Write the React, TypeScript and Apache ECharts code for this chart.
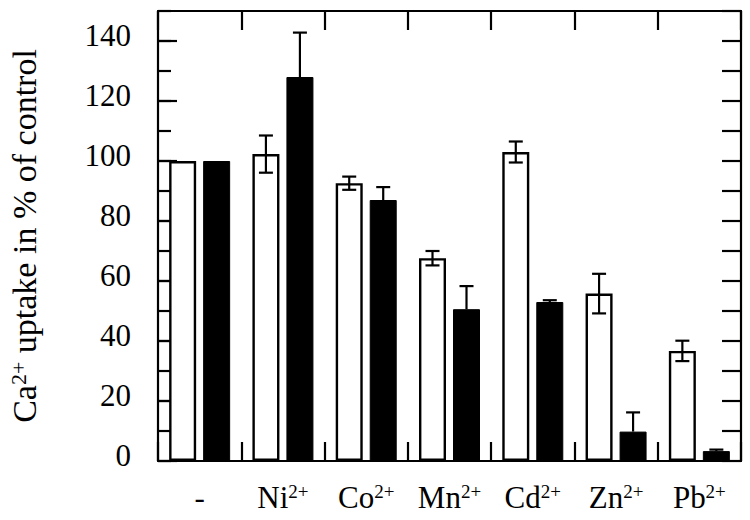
import React, { useEffect, useRef } from 'react';
import * as echarts from 'echarts';

const categories = ['-', 'Ni', 'Co', 'Mn', 'Cd', 'Zn', 'Pb'];
const categorySuperscripts = ['', '2+', '2+', '2+', '2+', '2+', '2+'];
const openValues = [100, 102.3, 92.6, 67.6, 103, 55.8, 36.7];
const openErrors = [0, 6.2, 2.2, 2.4, 3.5, 6.6, 3.4];
const filledValues = [100, 128, 87, 50.6, 53, 9.8, 3.3];
const filledErrors = [0, 14.8, 4.3, 7.7, 0.6, 6.4, 0.5];
const yMin = 0;
const yMax = 150;
const yLabelStep = 20;
const yMinorStep = 10;
const yTitleMain = 'Ca';
const yTitleSup = '2+';
const yTitleRest = ' uptake in % of control';

const FONT = "'Liberation Serif', 'Times New Roman', Times, serif";
const BAR_W = 27;
const BAR_GAP = 7;
const OFFSET = (BAR_W + BAR_GAP) / 2;
const CAP = 7;

function errorSeries(values: number[], errors: number[], side: number, lowerToo: boolean) {
  return {
    type: 'custom',
    xAxisIndex: 0,
    yAxisIndex: 0,
    z: 10,
    silent: true,
    encode: { x: 0, y: 1 },
    data: values.map((v, i) => [i, v, errors[i]]),
    renderItem: (params: any, api: any) => {
      const i = api.value(0);
      const v = api.value(1);
      const e = api.value(2);
      if (!e) return null;
      const c = api.coord([i, v]);
      const x = c[0] + side * OFFSET;
      const top = api.coord([i, v + e])[1];
      const bot = lowerToo ? api.coord([i, v - e])[1] : c[1];
      const st = { stroke: '#000', lineWidth: 2.2 };
      const children: any[] = [
        { type: 'line', shape: { x1: x, y1: top, x2: x, y2: bot }, style: st },
        { type: 'line', shape: { x1: x - CAP, y1: top, x2: x + CAP, y2: top }, style: st },
      ];
      if (lowerToo) {
        children.push({ type: 'line', shape: { x1: x - CAP, y1: bot, x2: x + CAP, y2: bot }, style: st });
      }
      return { type: 'group', children };
    },
  };
}

export default function App() {
  const ref = useRef<HTMLDivElement>(null);
  useEffect(() => {
    if (!ref.current) return;
    const chart = echarts.init(ref.current, undefined, { renderer: 'svg' });
    const axisLineStyle = { color: '#000', width: 2.2 };
    const option: any = {
      animation: false,
      backgroundColor: '#fff',
      textStyle: { fontFamily: FONT },
      grid: { left: 158, right: 9, top: 11, bottom: 59, containLabel: false },
      xAxis: [
        {
          type: 'category',
          data: categories,
          position: 'bottom',
          boundaryGap: true,
          axisLine: { show: true, onZero: false, lineStyle: axisLineStyle },
          axisTick: { show: true, inside: true, length: 19, alignWithLabel: false, lineStyle: axisLineStyle },
          axisLabel: {
            margin: 21,
            interval: 0,
            fontFamily: FONT,
            formatter: (value: string, idx: number) =>
              categorySuperscripts[idx] ? `{b|${value}}{s|${categorySuperscripts[idx]}}` : `{b|${value}}`,
            rich: {
              b: { fontFamily: FONT, fontSize: 31, color: '#000', lineHeight: 31 },
              s: { fontFamily: FONT, fontSize: 19, color: '#000', lineHeight: 21, verticalAlign: 'top' },
            },
          },
          splitLine: { show: false },
        },
        {
          type: 'category',
          data: categories,
          position: 'top',
          boundaryGap: true,
          axisLine: { show: true, onZero: false, lineStyle: axisLineStyle },
          axisTick: { show: true, inside: true, length: 19, alignWithLabel: false, lineStyle: axisLineStyle },
          axisLabel: { show: false },
          splitLine: { show: false },
        },
      ],
      yAxis: [
        {
          type: 'value',
          position: 'left',
          min: yMin,
          max: yMax,
          interval: yLabelStep,
          axisLine: { show: true, lineStyle: axisLineStyle },
          axisTick: { show: true, inside: true, length: 19, lineStyle: axisLineStyle },
          axisLabel: {
            showMaxLabel: false,
            margin: 27,
            fontFamily: FONT,
            fontSize: 31,
            color: '#000',
            verticalAlign: 'bottom',
            lineHeight: 12,
          },
          splitLine: { show: false },
        },
        {
          type: 'value',
          position: 'left',
          min: yMin,
          max: yMax,
          interval: yMinorStep,
          axisLine: { show: false },
          axisTick: { show: true, inside: true, length: 13, lineStyle: axisLineStyle },
          axisLabel: { show: false },
          splitLine: { show: false },
        },
        {
          type: 'value',
          position: 'right',
          min: yMin,
          max: yMax,
          interval: yMinorStep,
          axisLine: { show: true, lineStyle: axisLineStyle },
          axisTick: { show: true, inside: true, length: 19, lineStyle: axisLineStyle },
          axisLabel: { show: false },
          splitLine: { show: false },
        },
      ],
      graphic: [
        {
          type: 'text',
          x: 24,
          y: 236,
          rotation: Math.PI / 2,
          style: {
            text: `{b|${yTitleMain}}{s|${yTitleSup}}{b|${yTitleRest}}`,
            align: 'center',
            verticalAlign: 'middle',
            font: `34px ${FONT}`,
            fill: '#000',
            rich: {
              b: { font: `34px ${FONT}`, fontFamily: FONT, fontSize: 34, fill: '#000', lineHeight: 34 },
              s: { font: `22px ${FONT}`, fontFamily: FONT, fontSize: 22, fill: '#000', lineHeight: 22, verticalAlign: 'top' },
            },
          },
        },
      ],
      series: [
        {
          type: 'bar',
          name: 'open',
          xAxisIndex: 0,
          yAxisIndex: 0,
          data: openValues,
          barWidth: BAR_W,
          barGap: `${(BAR_GAP / BAR_W) * 100}%`,
          itemStyle: { color: '#fff', borderColor: '#000', borderWidth: 2.4 },
          silent: true,
        },
        {
          type: 'bar',
          name: 'filled',
          xAxisIndex: 0,
          yAxisIndex: 0,
          data: filledValues,
          barWidth: BAR_W,
          barGap: `${(BAR_GAP / BAR_W) * 100}%`,
          itemStyle: { color: '#000', borderColor: '#000', borderWidth: 1 },
          silent: true,
        },
        errorSeries(openValues, openErrors, -1, true),
        errorSeries(filledValues, filledErrors, 1, false),
      ],
    };
    chart.setOption(option);
    return () => chart.dispose();
  }, []);
  return <div ref={ref} style={{ width: 750, height: 520, position: 'fixed', left: 0, top: 0, background: '#fff' }} />;
}
